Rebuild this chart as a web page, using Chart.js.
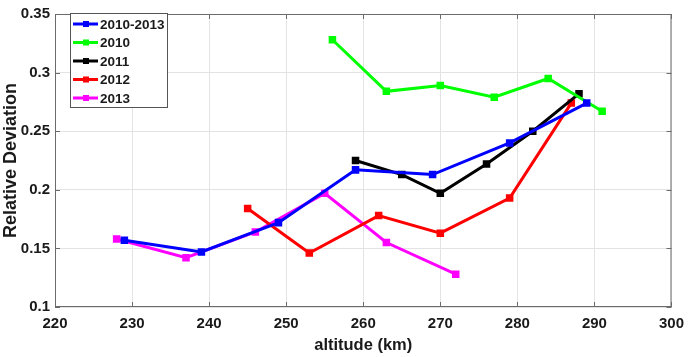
<!DOCTYPE html>
<html><head><meta charset="utf-8">
<script src="https://cdn.jsdelivr.net/npm/chart.js@4"></script>
<style>html,body{margin:0;padding:0;background:#fff;}#wrap{width:692px;height:357px;}</style>
</head><body><div id="wrap"><canvas id="c"></canvas></div>
<script>
const seriesLabels = ['2010-2013', '2010', '2011', '2012', '2013'];
const seriesColors = ['#0000ff', '#00ff00', '#000000', '#ff0000', '#ff00ff'];
const altAll = [229, 239, 249, 259, 269, 279, 289];
const devAll = [0.157, 0.147, 0.172, 0.217, 0.213, 0.240, 0.274];
const alt2010 = [256, 263, 270, 277, 284, 291];
const dev2010 = [0.328, 0.284, 0.289, 0.279, 0.295, 0.267];
const alt2011 = [259, 265, 270, 276, 282, 288];
const dev2011 = [0.225, 0.213, 0.197, 0.222, 0.250, 0.282];
const alt2012 = [245, 253, 262, 270, 279, 287];
const dev2012 = [0.184, 0.146, 0.178, 0.163, 0.193, 0.274];
const alt2013 = [228, 237, 246, 255, 263, 272];
const dev2013 = [0.158, 0.142, 0.164, 0.197, 0.155, 0.128];
const xTicks = [220, 230, 240, 250, 260, 270, 280, 290, 300];
const yTicks = [0.1, 0.15, 0.2, 0.25, 0.3, 0.35];

const alts = [altAll, alt2010, alt2011, alt2012, alt2013];
const devs = [devAll, dev2010, dev2011, dev2012, dev2013];

const datasets = seriesLabels.map((lab, i) => ({
  label: lab,
  data: alts[i].map((a, j) => ({x: a, y: devs[i][j]})),
  borderColor: seriesColors[i],
  backgroundColor: seriesColors[i],
  borderWidth: 3,
  pointStyle: 'rect',
  pointRadius: 3.2,
  pointHoverRadius: 3.2,
  tension: 0
}));

const F = '"Liberation Sans", Arial, sans-serif';

const boxPlugin = {
  id: 'box',
  afterDraw(chart) {
    const {ctx, chartArea: a, scales: {x, y}} = chart;
    ctx.save();
    ctx.strokeStyle = '#6b6b6b';
    ctx.lineWidth = 1;
    ctx.strokeRect(a.left + 0.5, a.top + 0.5, a.right - a.left - 1, a.bottom - a.top - 1);
    ctx.beginPath();
    xTicks.forEach(v => {
      const px = Math.round(x.getPixelForValue(v)) + 0.5;
      ctx.moveTo(px, a.bottom); ctx.lineTo(px, a.bottom - 5);
      ctx.moveTo(px, a.top); ctx.lineTo(px, a.top + 5);
    });
    yTicks.forEach(v => {
      const py = Math.round(y.getPixelForValue(v)) + 0.5;
      ctx.moveTo(a.left, py); ctx.lineTo(a.left + 5, py);
      ctx.moveTo(a.right, py); ctx.lineTo(a.right - 5, py);
    });
    ctx.stroke();
    // legend
    const lx = 70, ly = 13, lw = 97, lh = 94;
    ctx.fillStyle = '#fff';
    ctx.fillRect(lx, ly, lw, lh);
    ctx.strokeStyle = '#555';
    ctx.strokeRect(lx + 0.5, ly + 0.5, lw, lh);
    ctx.font = 'bold 13.5px ' + F;
    ctx.textBaseline = 'middle';
    seriesLabels.forEach((lab, i) => {
      const cy = 24 + i * 18.5;
      ctx.strokeStyle = seriesColors[i];
      ctx.lineWidth = 3;
      ctx.beginPath(); ctx.moveTo(73, cy); ctx.lineTo(98, cy); ctx.stroke();
      ctx.fillStyle = seriesColors[i];
      ctx.fillRect(86 - 3, cy - 3, 6, 6);
      ctx.fillStyle = '#1a1a1a';
      ctx.fillText(lab, 100, cy + 1);
    });
    ctx.restore();
  }
};

new Chart(document.getElementById('c'), {
  type: 'line',
  data: {datasets},
  options: {
    responsive: true,
    maintainAspectRatio: false,
    animation: false,
    layout: {padding: {left: 0, right: 13, top: 7, bottom: 0}},
    plugins: {legend: {display: false}, tooltip: {enabled: false}},
    scales: {
      x: {
        type: 'linear', min: 220, max: 300,
        afterBuildTicks: s => { s.ticks = xTicks.map(v => ({value: v})); },
        afterFit: s => { s.height = 50; },
        grid: {color: '#e3e3e3', drawTicks: false},
        border: {display: false},
        ticks: {padding: 8, color: '#1a1a1a', font: {family: F, size: 15, weight: 'bold'}},
        title: {display: true, text: 'altitude (km)', color: '#1a1a1a', padding: {top: 0, bottom: 2}, font: {family: F, size: 16.5, weight: 'bold'}}
      },
      y: {
        type: 'linear', min: 0.1, max: 0.35,
        afterBuildTicks: s => { s.ticks = yTicks.map(v => ({value: v})); },
        afterFit: s => { s.width = 55; },
        grid: {color: '#e3e3e3', drawTicks: false},
        border: {display: false},
        ticks: {padding: 5, color: '#1a1a1a', font: {family: F, size: 15, weight: 'bold'}, callback: v => String(+v.toFixed(2))},
        title: {display: true, text: 'Relative Deviation', color: '#1a1a1a', padding: {top: 0, bottom: 0}, font: {family: F, size: 18, weight: 'bold'}}
      }
    }
  },
  plugins: [boxPlugin]
});
</script></body></html>
